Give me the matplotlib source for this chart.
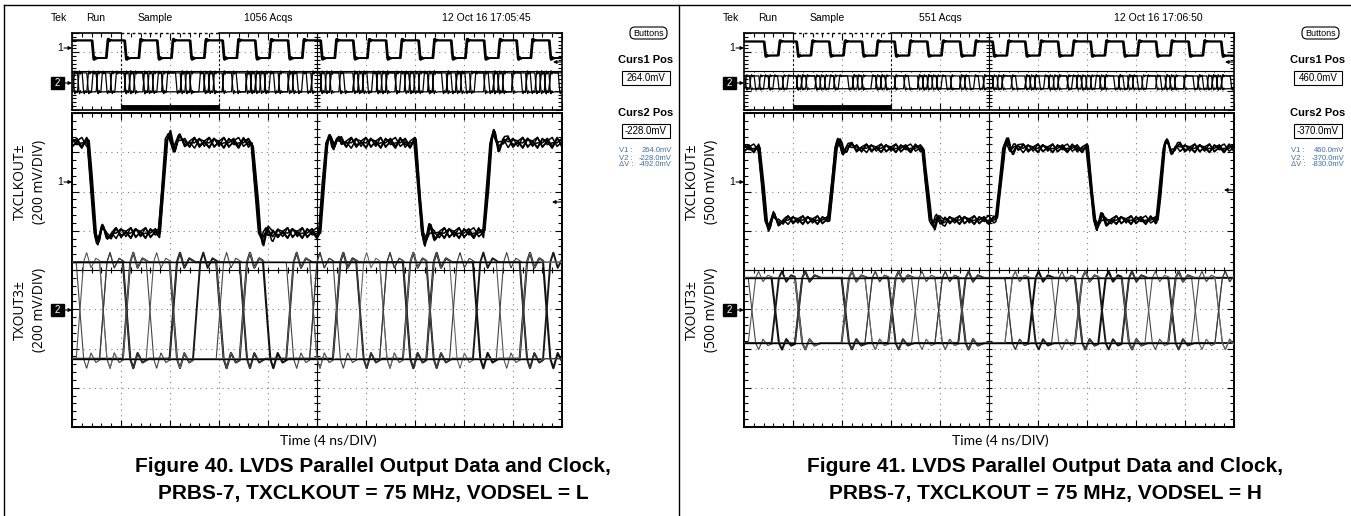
import numpy as np
import matplotlib.pyplot as plt
from matplotlib.patches import Rectangle, FancyBboxPatch

plt.rcParams['font.family'] = ['Liberation Sans', 'DejaVu Sans']

W, H = 1351, 516
DX = 672   # right panel is the left one moved over by this many pixels

captions = [['Figure 40. LVDS Parallel Output Data and Clock,',
             'PRBS-7, TXCLKOUT = 75 MHz, VODSEL = L'],
            ['Figure 41. LVDS Parallel Output Data and Clock,',
             'PRBS-7, TXCLKOUT = 75 MHz, VODSEL = H']]
acqs = ['1056 Acqs', '551 Acqs']
stamps = ['12 Oct 16 17:05:45', '12 Oct 16 17:06:50']
mv_div = [200, 500]
curs1 = [264.0, 460.0]     # mV
curs2 = [-228.0, -370.0]

# main window, 4 ns/DIV; first edge is a falling one
clk_edges = [[1.6, 7.4, 15.0, 20.5, 28.3, 33.9],
             [1.5, 7.2, 14.9, 20.9, 28.3, 34.0]]
clk_hi = [208, 450]
clk_lo = [-252, -465]
clk_jitter = [0.0, 0.1, -0.08, 0.05, -0.03]
clk_ring = [0.00, 0.05, -0.04, 0.06, -0.05, 0.02, 0.06, -0.04,
            0.01, -0.06, 0.04, 0.02, -0.05, 0.05, -0.02, 0.00]

data_hi = [264, 460]
data_lo = [-228, -370]
bit_t0 = -1.26
bit_ns = 1.905
data_bits = [
    ['11100110100011101100101', '00011011001110010011010', '10110001110100110001110',
     '01001110001011001110001', '11011000111001011000110', '00100111000110100111001'],
    ['11011001110001101001110', '00100110001110010110001', '10011100101100011100101',
     '01100011010011100011010', '11100101100011011001100', '00011010011100100110011'],
]
trace_lw = [1.5, 1.4, 0.8, 0.8, 0.8, 0.8]
trace_col = ['#111111', '#1a1a1a', '#444444', '#555555', '#666666', '#3a3a3a']

# upper (overview) window, 20 ns/DIV
top_clk_fall = [8.3, 21.6, 34.9, 48.3, 61.6, 74.9, 88.3, 101.6,
                114.9, 128.3, 141.6, 154.9, 168.3, 181.6, 194.9]
top_clk_rise = [14.1, 27.4, 40.7, 54.1, 67.4, 80.7, 94.1, 107.4,
                120.7, 134.1, 147.4, 160.7, 174.1, 187.4, 200.7]
top_bits = [
    '1011001110001011010011110100010110011101010001101111001011000101110100110101101110010011100101100011010111010011',
    '0100110001110100101100001011101001100010101110010000110100111010001011001010010001101100011010011100101000101100',
    '1110010100110111000101101100101001110010110100011010110011100101010011011000101101011001110100011010010110110100',
]

# step response used for every edge (fraction of the swing)
edge_t = [-0.3, 0.3, 0.55, 0.9, 1.3, 1.8]
edge_v = [0.0, 1.0, 1.1, 0.94, 1.04, 1.0]


def step(tau):
    return np.interp(tau, edge_t, edge_v, left=0.0, right=1.0)


def bits_wave(t, bits, hi, lo):
    lv = [hi if b == '1' else lo for b in bits]
    y = np.full(t.shape, float(lv[0]))
    for k in range(1, len(lv)):
        if lv[k] != lv[k - 1]:
            y += (lv[k] - lv[k - 1]) * step(t - (bit_t0 + k * bit_ns))
    return y


def clk_wave(t, falls_rises, hi, lo):
    y = np.full(t.shape, float(hi))
    for i, e in enumerate(falls_rises):
        y += ((lo - hi) if i % 2 == 0 else (hi - lo)) * step(t - e)
    return y


def graticule(ax, xdiv, ylo, yhi, ygrid, yminor, lw_box=1.4):
    xmax = 10 * xdiv
    ax.set_xlim(0, xmax)
    ax.set_ylim(ylo, yhi)
    for x in np.arange(1, 10) * xdiv:
        if x != 5 * xdiv:
            ax.axvline(x, color='#808080', lw=0.8, ls=(0, (1, 4)), zorder=1)
    for y in ygrid:
        ax.axhline(y, color='#808080', lw=0.8, ls=(0, (1, 4)), zorder=1)
    ax.axvline(5 * xdiv, color='k', lw=0.8, zorder=1)
    ax.axhline(0, color='k', lw=0.8, zorder=1)
    hx = (yhi - ylo) * 0.01
    ax.vlines(np.arange(1, 50) * xdiv / 5, -hx, hx, color='k', lw=0.8, zorder=1)
    hy = xdiv * 0.06
    ax.hlines(np.arange(ylo, yhi + 1e-9, yminor), 5 * xdiv - hy, 5 * xdiv + hy,
              color='k', lw=0.8, zorder=1)
    ax.set_xticks(np.arange(0, xmax + 1e-9, xdiv))
    ax.set_xticks(np.arange(0, xmax + 1e-9, xdiv / 5), minor=True)
    ax.set_yticks(np.arange(ylo, yhi + 1e-9, 1 if yhi > 2 else 0.5))
    ax.set_yticks(np.arange(ylo, yhi + 1e-9, yminor), minor=True)
    ax.tick_params(which='both', direction='in', top=True, right=True,
                   labelbottom=False, labelleft=False, width=0.8, color='k')
    ax.tick_params(which='major', length=5)
    ax.tick_params(which='minor', length=3)
    for s in ax.spines.values():
        s.set_linewidth(lw_box)


fig = plt.figure(figsize=(W / 100, H / 100), dpi=100)
cv = fig.add_axes([0, 0, 1, 1], zorder=5)   # text/frame layer on top of the windows
cv.set_xlim(0, W)
cv.set_ylim(H, 0)
cv.axis('off')


def px_axes(x0, y0, x1, y1):
    return fig.add_axes([x0 / W, 1 - y1 / H, (x1 - x0) / W, (y1 - y0) / H])


def arrow(x0, x1, y):
    cv.annotate('', xy=(x1, y), xytext=(x0, y),
                arrowprops=dict(arrowstyle='-|>', lw=0.8, color='k',
                                mutation_scale=5, shrinkA=0, shrinkB=0))


# panel frame
cv.plot([4, 4], [5, H], color='k', lw=1.0)
cv.plot([4, W], [5, 5], color='k', lw=1.0)
cv.plot([679, 679], [5, H], color='k', lw=1.0)

scope = ['Liberation Sans', 'DejaVu Sans']
t_main = np.linspace(0, 40, 2400)
t_top = np.linspace(0, 200, 4000)

for p in range(2):
    dx = DX * p
    sc = mv_div[p]

    # ---- overview window ----
    top = px_axes(72 + dx, 33, 562 + dx, 110)
    graticule(top, 20, -1, 1, [-0.5, 0.5], 0.1, lw_box=1.2)
    top.spines['top'].set_visible(False)
    top.plot([0, 20], [1, 1], color='k', lw=1.2, clip_on=False)
    top.plot([60, 200], [1, 1], color='k', lw=1.2, clip_on=False)
    top.plot([20, 60], [1, 1], color='k', lw=1.0, ls=(0, (2, 2)), clip_on=False)
    top.axvline(20, color='k', lw=0.8, ls=(0, (2, 2)), zorder=2)
    top.axvline(60, color='k', lw=0.8, ls=(0, (2, 2)), zorder=2)
    top.plot([20, 60], [-0.93, -0.93], color='k', lw=3.5, solid_capstyle='butt', zorder=4)
    edges = sorted(top_clk_fall + top_clk_rise)
    for j in range(2):
        y = clk_wave(t_top, [e + 0.4 * j for e in edges], clk_hi[p], clk_lo[p])
        top.plot(t_top, 0.6 + y / (5 * sc), color='k', lw=1.3, zorder=3)
    for j, bits in enumerate(top_bits):
        y = bits_wave(t_top, bits, data_hi[p], data_lo[p])
        top.plot(t_top, -0.3 + y / (5 * sc), color='k', lw=0.9, zorder=3)

    # ---- main window ----
    ax = px_axes(72 + dx, 113, 562 + dx, 427)
    graticule(ax, 4, -4, 4, [-3, -2, -1, 1, 2, 3], 0.2)
    for j, jit in enumerate(clk_jitter):
        y = clk_wave(t_main, [e + jit for e in clk_edges[p]], clk_hi[p], clk_lo[p])
        ring = np.resize(np.roll(clk_ring, 3 * j), 110)
        y += (clk_hi[p] - clk_lo[p]) * np.interp(t_main, np.arange(110) * 0.4, ring)
        ax.plot(t_main, 2.2 + y / sc, color='k', lw=1.1, zorder=3)
    for j, bits in enumerate(data_bits[p]):
        y = bits_wave(t_main, bits, data_hi[p], data_lo[p])
        ax.plot(t_main, -1.12 + y / sc, color=trace_col[j], lw=trace_lw[j], zorder=3)
    for c in (curs1[p], curs2[p]):
        ax.hlines(-1.12 + c / sc, 0, 38.3, color='k', lw=1.0, zorder=4)

    # ---- channel markers ----
    for yy in (48, 182):
        cv.text(63 + dx, yy, '1', ha='right', va='center', fontsize=7.5, family=scope)
        arrow(64 + dx, 72 + dx, yy)
    for yy in (83, 310):
        cv.add_patch(Rectangle((51 + dx, yy - 6), 13, 12, color='k'))
        cv.text(57.5 + dx, yy, '2', color='w', ha='center', va='center', fontsize=7, family=scope)
        arrow(64 + dx, 72 + dx, yy)
    arrow(561 + dx, 552 + dx, 202 if p == 0 else 190)
    arrow(561 + dx, 553 + dx, 62)

    # ---- header ----
    for x, s in zip([59, 96, 155, 268, 486], ['Tek', 'Run', 'Sample', acqs[p], stamps[p]]):
        cv.text(x + dx, 18, s, ha='center', va='center', fontsize=7.5, family=scope)

    # ---- cursor side panel ----
    cv.add_patch(FancyBboxPatch((630 + dx, 27), 37, 12, boxstyle='round,pad=0,rounding_size=5',
                                fc='w', ec='k', lw=0.8))
    cv.text(648.5 + dx, 33, 'Buttons', ha='center', va='center', fontsize=6.5, family=scope)
    cv.text(646 + dx, 60, 'Curs1 Pos', ha='center', va='center', fontsize=8,
            fontweight='bold', family=scope)
    cv.add_patch(Rectangle((622 + dx, 71), 48, 14, fc='w', ec='k', lw=0.8))
    cv.text(646 + dx, 78, f'{curs1[p]:.1f}mV', ha='center', va='center', fontsize=7, family=scope)
    cv.text(646 + dx, 113, 'Curs2 Pos', ha='center', va='center', fontsize=8,
            fontweight='bold', family=scope)
    cv.add_patch(Rectangle((622 + dx, 124), 48, 14, fc='w', ec='k', lw=0.8))
    cv.text(646 + dx, 131, f'{curs2[p]:.1f}mV', ha='center', va='center', fontsize=7, family=scope)
    vals = [curs1[p], curs2[p], curs2[p] - curs1[p]]
    for k, (lab, v) in enumerate(zip(['V1 :', 'V2 :', '\u0394V :'], vals)):
        cv.text(619 + dx, 151 + 7 * k, lab, ha='left', va='center', fontsize=5.5,
                color='#3e6fa6', family=scope)
        cv.text(672 + dx, 151 + 7 * k, f'{v:.1f}mV', ha='right', va='center', fontsize=5.5,
                color='#3e6fa6', family=scope)

    # ---- axis labels and caption ----
    for yy, name in ((182, 'TXCLKOUT\u00b1'), (310, 'TXOUT3\u00b1')):
        cv.text(20 + dx, yy, name, rotation=90, ha='center', va='center',
                fontsize=10, family=['Open Sans', 'DejaVu Sans'])
        cv.text(39 + dx, yy, f'({sc} mV/DIV)', rotation=90, ha='center', va='center',
                fontsize=10, family=['Open Sans', 'DejaVu Sans'])
    cv.text(328 + dx, 441, 'Time (4 ns/DIV)', ha='center', va='center', fontsize=10,
            family=['Lato', 'DejaVu Sans'])
    for k, line in enumerate(captions[p]):
        cv.text(373 + dx, 467 + 26 * k, line, ha='center', va='center', fontsize=15,
                fontweight='bold')

fig.savefig('out.png', dpi=100)
